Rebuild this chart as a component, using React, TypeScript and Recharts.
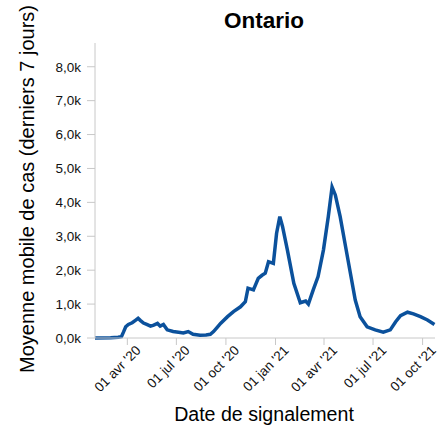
import React from 'react';
import { LineChart, Line, XAxis, YAxis } from 'recharts';

// Moyenne mobile sur 7 jours, Ontario
const dates = [
  '2020-02-01', '2020-03-01', '2020-03-15', '2020-03-21', '2020-03-25', '2020-03-29',
  '2020-04-03', '2020-04-10', '2020-04-16', '2020-04-21', '2020-04-25', '2020-05-01',
  '2020-05-07', '2020-05-14', '2020-05-20', '2020-05-27', '2020-06-01', '2020-06-07',
  '2020-06-14', '2020-06-25', '2020-07-05', '2020-07-14', '2020-07-23', '2020-08-01',
  '2020-08-14', '2020-08-25', '2020-09-02', '2020-09-08', '2020-09-14', '2020-09-21',
  '2020-10-04', '2020-10-15', '2020-10-28', '2020-11-06', '2020-11-11', '2020-11-21',
  '2020-11-30', '2020-12-07', '2020-12-13', '2020-12-19', '2020-12-28', '2021-01-03',
  '2021-01-09', '2021-01-14', '2021-01-23', '2021-02-04', '2021-02-16', '2021-02-26',
  '2021-03-03', '2021-03-12', '2021-03-21', '2021-03-31', '2021-04-09', '2021-04-16',
  '2021-04-22', '2021-05-01', '2021-05-11', '2021-05-20', '2021-05-29', '2021-06-07',
  '2021-06-20', '2021-07-05', '2021-07-20', '2021-08-02', '2021-08-12', '2021-08-21',
  '2021-09-03', '2021-09-14', '2021-09-27', '2021-10-10', '2021-10-23',
];
const cases = [
  0, 5, 20, 40, 180, 330,
  400, 450, 520, 580, 520, 440,
  400, 350, 380, 430, 350, 400,
  240, 190, 170, 150, 190, 110,
  80, 90, 110, 190, 300, 430,
  630, 780, 920, 1070, 1470, 1420,
  1760, 1850, 1910, 2250, 2200, 3090,
  3580, 3290, 2600, 1610, 1040, 1090,
  1000, 1420, 1810, 2600, 3580, 4450,
  4220, 3580, 2700, 1910, 1120, 630,
  330, 240, 170, 240, 480, 660,
  760, 710, 630, 530, 400,
];
const tickDates = ['2020-04-01', '2020-07-01', '2020-10-01', '2021-01-01', '2021-04-01', '2021-07-01', '2021-10-01'];
const tickLabels = ["01 avr '20", "01 jul '20", "01 oct '20", "01 jan '21", "01 avr '21", "01 jul '21", "01 oct '21"];
const yTicks = [0, 1000, 2000, 3000, 4000, 5000, 6000, 7000, 8000];

const toTs = (d: string) => {
  const [y, m, day] = d.split('-').map(Number);
  return Date.UTC(y, m - 1, day);
};

const data = dates.map((d, i) => ({ t: toTs(d), v: cases[i] }));
const xTicks = tickDates.map(toTs);
const labelByTs: Record<number, string> = {};
xTicks.forEach((t, i) => (labelByTs[t] = tickLabels[i]));

const FONT = '"Liberation Sans", Arial, sans-serif';
const AXIS = '#c8c8c8';

const XTick = ({ x, y, payload }: any) => (
  <text
    x={x + 11}
    y={y + 1}
    transform={`rotate(-45 ${x + 11} ${y + 1})`}
    textAnchor="end"
    dominantBaseline="central"
    fontSize={13.5}
    fontFamily={FONT}
    fill="#111"
  >
    {labelByTs[payload.value]}
  </text>
);

export default function App() {
  return (
    <div style={{ position: 'absolute', left: 0, top: 0, width: 442, height: 428, background: '#fff' }}>
      <svg width={442} height={428} style={{ position: 'absolute', left: 0, top: 0 }}>
        <text x={264} y={28} textAnchor="middle" fontSize={22.5} fontWeight="bold" fontFamily={FONT} fill="#000">
          Ontario
        </text>
        <text
          x={34}
          y={189}
          transform="rotate(-90 34 189)"
          textAnchor="middle"
          fontSize={20}
          fontFamily={FONT}
          fill="#000"
        >
          Moyenne mobile de cas (derniers 7 jours)
        </text>
        <text x={264} y={421} textAnchor="middle" fontSize={19.6} fontFamily={FONT} fill="#000">
          Date de signalement
        </text>
      </svg>
      <div style={{ position: 'absolute', left: 0, top: 0 }}>
        <LineChart width={442} height={428} data={data} margin={{ top: 43, right: 7, bottom: 0, left: 0 }}>
          <XAxis
            dataKey="t"
            type="number"
            scale="time"
            domain={[toTs('2020-02-01'), toTs('2021-10-24')]}
            ticks={xTicks}
            interval={0}
            tick={<XTick />}
            tickSize={7}
            stroke={AXIS}
            tickLine={{ stroke: AXIS }}
            axisLine={{ stroke: AXIS }}
            height={90}
          />
          <YAxis
            type="number"
            domain={[0, 8700]}
            ticks={yTicks}
            interval={0}
            width={95}
            tickSize={8}
            tickMargin={6}
            stroke={AXIS}
            tickLine={{ stroke: AXIS }}
            axisLine={{ stroke: AXIS }}
            tick={{ fill: '#111', fontSize: 13.5, fontFamily: FONT }}
            tickFormatter={(v: number) => (v / 1000).toFixed(1).replace('.', ',') + 'k'}
          />
          <Line
            type="linear"
            dataKey="v"
            stroke="#0b519c"
            strokeWidth={3.5}
            dot={false}
            isAnimationActive={false}
          />
        </LineChart>
      </div>
    </div>
  );
}
